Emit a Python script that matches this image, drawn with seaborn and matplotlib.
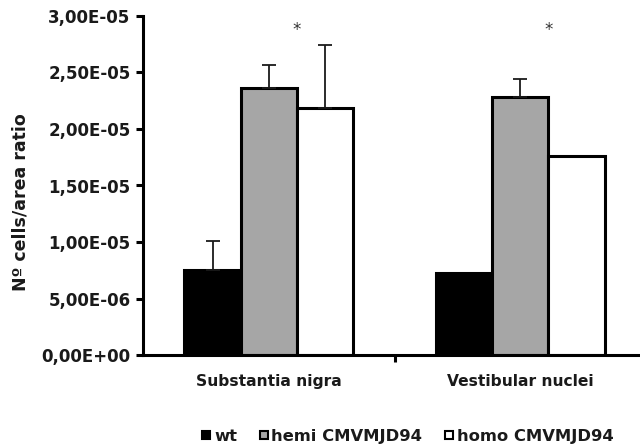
import matplotlib
matplotlib.use("Agg")
import matplotlib.pyplot as plt
from matplotlib.lines import Line2D
import seaborn as sns
import pandas as pd
import numpy as np

regions = ["Substantia nigra", "Vestibular nuclei"]
genotypes = ["wt", "hemi CMVMJD94", "homo CMVMJD94"]
# mean cell counts per area, one list per genotype (order follows regions)
wt_mean = [7.5e-6, 7.3e-6]
hemi_mean = [2.36e-5, 2.28e-5]
homo_mean = [2.19e-5, 1.76e-5]
# upper error (SEM); NaN where no bar is shown
wt_err = [2.6e-6, np.nan]
hemi_err = [2.1e-6, 1.6e-6]
homo_err = [5.5e-6, np.nan]
significance = ["*", "*"]
yticks = [0, 5e-6, 1e-5, 1.5e-5, 2e-5, 2.5e-5, 3e-5]

sns.set_style("white")
plt.rcParams["font.family"] = ["DejaVu Sans"]

df = pd.DataFrame({
    "region": regions * 3,
    "genotype": np.repeat(genotypes, len(regions)),
    "value": wt_mean + hemi_mean + homo_mean,
})
errs = [wt_err, hemi_err, homo_err]

fig = plt.figure(figsize=(6.4, 4.48), dpi=100)
ax = fig.add_axes([143 / 640, 1 - 355 / 448, (646 - 143) / 640, (355 - 16) / 448])

sns.barplot(data=df, x="region", y="value", hue="genotype",
            order=regions, hue_order=genotypes,
            palette=["black", "#a6a6a6", "white"],
            edgecolor="black", linewidth=2.2, width=0.67, gap=0,
            errorbar=None, legend=False, ax=ax)

# one-sided error bars on top of each bar
for cont, err in zip(ax.containers, errs):
    for patch, e in zip(cont.patches, err):
        if np.isnan(e):
            continue
        xc = patch.get_x() + patch.get_width() / 2
        ax.errorbar(xc, patch.get_height(), yerr=[[0], [e]], fmt="none",
                    ecolor="#1a1a1a", elinewidth=1.3, capsize=5, capthick=1.3,
                    zorder=1)

# significance marks between hemi and homo bars
for patch, s in zip(ax.containers[1].patches, significance):
    ax.text(patch.get_x() + patch.get_width(), 2.88e-5, s, ha="center",
            va="center", fontsize=12, color="#333333")

ax.set_xlim(-0.5, 1.5)
ax.set_ylim(0, 3e-5)
ax.set_yticks(yticks)
ax.set_yticklabels([f"{v:.2E}".replace(".", ",") for v in yticks],
                   fontweight="bold", fontsize=12, color="#1a1a1a")
ax.set_xticks(range(len(regions)))
ax.set_xticklabels(regions, fontweight="bold", fontsize=11.2, color="#1a1a1a")
ax.set_xticks([0.5], minor=True)
ax.tick_params(axis="x", which="major", length=0, pad=14)
ax.tick_params(axis="x", which="minor", direction="out", length=5, width=2.2,
               color="black", bottom=True)
ax.tick_params(axis="y", direction="out", length=5, width=2.2, color="black",
               left=True, pad=4)
ax.set_xlabel("")
ax.set_ylabel("Nº cells/area ratio", fontweight="bold", fontsize=12.5,
              color="#1a1a1a")
ax.yaxis.set_label_coords(-0.225, 0.45)

sns.despine(ax=ax)
for side in ["left", "bottom"]:
    ax.spines[side].set_linewidth(2.2)
    ax.spines[side].set_color("black")

handles = [Line2D([0], [0], marker="s", linestyle="none", markersize=5.5,
                  markerfacecolor=c, markeredgecolor="black", markeredgewidth=1.5)
           for c in ["black", "#a6a6a6", "white"]]
leg = fig.legend(handles, genotypes, loc="center", bbox_to_anchor=(408 / 640, 1 - 436 / 448),
                 ncol=3, frameon=False, handlelength=0.45, handletextpad=0.25,
                 columnspacing=1.4, prop={"weight": "bold", "size": 11.8})
for t in leg.get_texts():
    t.set_color("#1a1a1a")

fig.savefig("out.png", dpi=100)
